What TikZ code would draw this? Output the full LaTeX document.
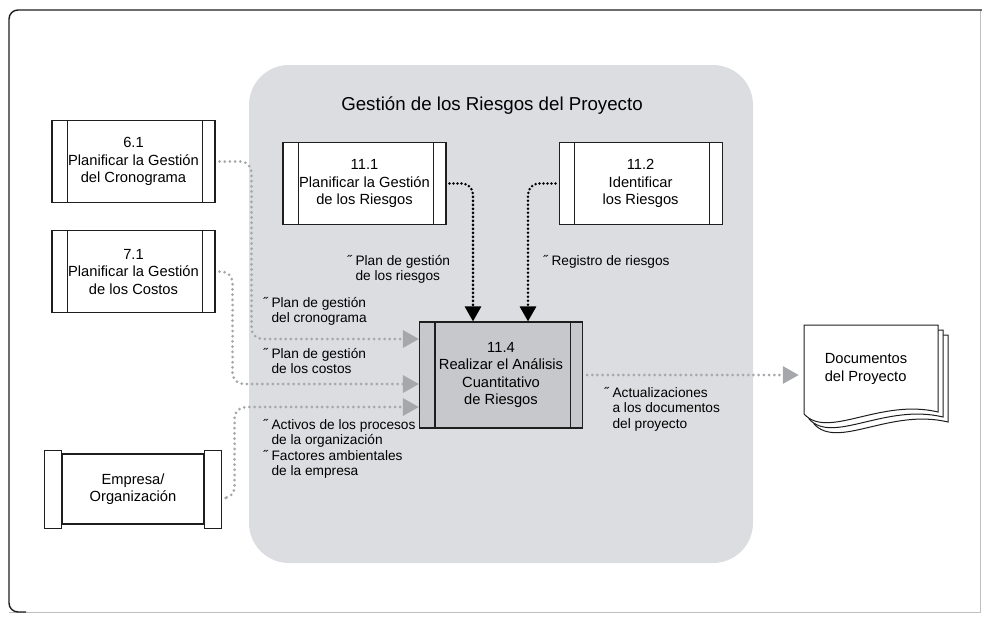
\documentclass[tikz,border=0pt]{standalone}
\usepackage{fontspec}
\setmainfont{Liberation Sans}
\usepackage{tikz}
\usetikzlibrary{arrows.meta,positioning,calc}
\definecolor{area}{RGB}{219,221,224}
\definecolor{procgray}{RGB}{198,200,203}
\definecolor{flowgray}{RGB}{165,167,170}
\definecolor{ink}{RGB}{30,30,30}
\newcommand{\ind}{\hphantom{˝\ }}

\begin{document}
\begin{tikzpicture}[x=1pt,y=-1pt,
  proc/.style={draw=ink,line width=1.1pt,fill=white,align=center,inner sep=0pt,
    minimum width=163pt,minimum height=82pt,font=\fontsize{14.7}{17.5}\selectfont},
  lbl/.style={anchor=base west,align=left,inner sep=0pt,font=\fontsize{13.7}{15.6}\selectfont},
  gin/.style={draw=flowgray,line width=3pt,line cap=round,dash pattern=on 0pt off 5.2pt,
    rounded corners=11pt,shorten <=4pt,-{Triangle[length=16pt,width=17pt,fill=flowgray]}},
  bin/.style={draw=black,line width=2.8pt,line cap=round,dash pattern=on 0pt off 4pt,
    rounded corners=11pt,shorten <=3pt,-{Triangle[length=15pt,width=16pt,fill=black]}}]
\useasboundingbox (0,0) rectangle (982,616);

% frame and process group
\draw[black!25,line width=1pt] (9,612) -- (980,612) -- (980,10);
\draw[ink,line width=1.4pt,rounded corners=9pt] (26,612) -- (9,612) -- (9,10) -- (982,10);
\fill[area,rounded corners=40pt] (249,65) rectangle (753,563);
\node[font=\fontsize{18.7}{22}\selectfont] (title) at (492,106) {Gestión de los Riesgos del Proyecto};

% processes
\node[proc] (p61) at (133.5,161.5) {6.1\\Planificar la Gestión\\del Cronograma};
\node[proc,below=27pt of p61] (p71) {7.1\\Planificar la Gestión\\de los Costos};
\node[proc] (p111) at (364.5,183.5) {11.1\\Planificar la Gestión\\de los Riesgos};
\node[proc,right=112pt of p111] (p112) {11.2\\Identificar\\los Riesgos};
\node[proc,fill=procgray,minimum height=106pt] (p114) at (501,375) {11.4\\Realizar el Análisis\\Cuantitativo\\de Riesgos};
\node[proc,minimum width=142pt,minimum height=70pt] (emp) at (133,489) {Empresa/\\Organización};

\foreach \n in {p61,p71,p111,p112,p114}{
  \draw[ink,line width=1.1pt] ([xshift=16pt]\n.north west) -- ([xshift=16pt]\n.south west)
    ([xshift=-13pt]\n.north east) -- ([xshift=-13pt]\n.south east);
}
\draw[ink,line width=1.1pt,fill=white] ([yshift=3pt]emp.north west) rectangle ([xshift=-17pt,yshift=-4pt]emp.south west)
  ([yshift=3pt]emp.north east) rectangle ([xshift=17pt,yshift=-4pt]emp.south east);

% project documents
\foreach \d in {10,5,0}
  \filldraw[ink,fill=white,line width=1pt,shift={(\d,\d)}] (804,325) -- (938,325) -- (938,412)
    .. controls (880,398) and (828,440) .. (804,414) -- cycle;
\node[minimum width=134pt,minimum height=88pt,inner sep=0pt,align=left,
  font=\fontsize{14.7}{17.5}\selectfont] (docs) at (866,369) {Documentos\\del Proyecto};

% flows
\draw[gin] (p61.east) -- ++(36,0) |- ([yshift=36pt]p114.west);
\draw[gin] (p71.east) -- ++(17,0) |- ([yshift=-9pt]p114.west);
\draw[gin] ([xshift=17pt,yshift=-9pt]emp.east) -- ++(13,0) |- ([yshift=-32pt]p114.west);
\draw[gin] (p114.east) -- (p114.east -| docs.west);
\draw[bin] (p111.east) -| ([xshift=-28pt]p114.north);
\draw[bin] (p112.west) -| ([xshift=27pt]p114.north);

% labels (base = last line)
\node[lbl] (lriesgos) at (347,280.6) {˝ Plan de gestión\\\ind de los riesgos};
\node[lbl] (lregistro) at (543,265) {˝ Registro de riesgos};
\node[lbl] (lcrono) at (263,322.6) {˝ Plan de gestión\\\ind del cronograma};
\node[lbl] (lcostos) at (263,373.6) {˝ Plan de gestión\\\ind de los costos};
\node[lbl] (lactivos) at (263,475.8) {˝ Activos de los procesos\\\ind de la organización\\˝ Factores ambientales\\\ind de la empresa};
\node[lbl] (lactual) at (604,428.2) {˝ Actualizaciones\\\ind a los documentos\\\ind del proyecto};
\end{tikzpicture}
\end{document}
